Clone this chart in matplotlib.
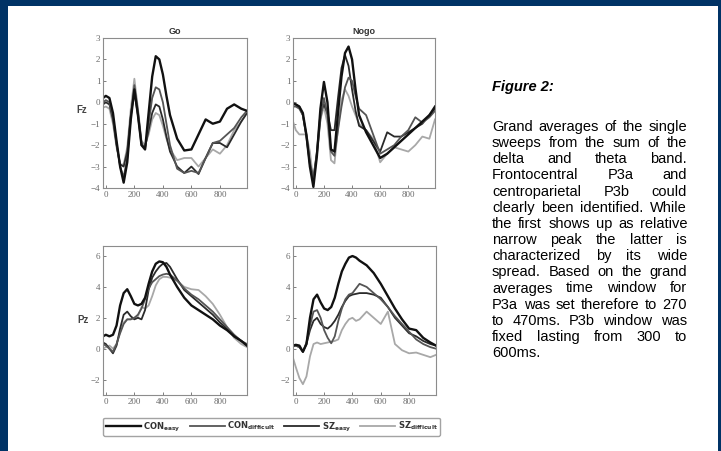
# -*- coding: utf-8 -*-
# Grand averages Fz / Pz, Go vs Nogo, with caption on the right
import matplotlib
matplotlib.use('Agg')
import matplotlib.pyplot as plt
from matplotlib.patches import Rectangle
from matplotlib.lines import Line2D

plt.rcParams['font.family'] = ['Liberation Sans', 'DejaVu Sans']

# time axis (ms)
t = [-20, 0, 25, 50, 75, 100, 125, 150, 175, 200, 225, 250, 275, 300, 325, 350,
     375, 400, 425, 450, 500, 550, 600, 650, 700, 750, 800, 850, 900, 950, 990]

groups = ['CON_easy', 'CON_difficult', 'SZ_easy', 'SZ_difficult']
legend_labels = [r'$\mathbf{CON}_{\mathbf{easy}}$', r'$\mathbf{CON}_{\mathbf{difficult}}$',
                 r'$\mathbf{SZ}_{\mathbf{easy}}$', r'$\mathbf{SZ}_{\mathbf{difficult}}$']

# Fz, Go
fz_go = {
    'CON_easy':      [0.2, 0.3, 0.2, -0.5, -1.8, -3.0, -3.75, -2.8, -0.8, 0.6, -0.6, -2.0, -2.2, -0.5, 1.2, 2.15,
                      2.0, 1.3, 0.3, -0.6, -1.7, -2.25, -2.2, -1.5, -0.8, -1.0, -0.9, -0.3, -0.1, -0.3, -0.4],
    'CON_difficult': [0.0, 0.1, 0.0, -0.7, -1.9, -3.0, -3.5, -2.6, -0.7, 0.8, -0.4, -1.9, -2.2, -1.0, 0.2, 0.7,
                      0.6, 0.0, -1.0, -2.0, -3.1, -3.3, -3.2, -3.3, -2.6, -1.9, -1.8, -1.5, -1.2, -0.7, -0.4],
    'SZ_easy':       [-0.1, 0.0, -0.1, -0.8, -2.0, -2.9, -3.0, -2.3, -0.6, 0.5, -0.6, -2.0, -2.1, -1.3, -0.5, -0.1,
                      -0.2, -0.8, -1.6, -2.3, -3.0, -3.3, -3.0, -3.35, -2.6, -1.9, -1.9, -2.1, -1.5, -0.9, -0.5],
    'SZ_difficult':  [-0.25, -0.2, -0.3, -1.0, -2.1, -2.9, -2.9, -2.1, -0.3, 1.1, -0.3, -1.8, -2.0, -1.5, -0.8, -0.5,
                      -0.6, -1.1, -1.7, -2.2, -2.7, -2.6, -2.6, -3.0, -2.6, -2.2, -2.4, -2.0, -1.3, -0.9, -0.5],
}

# Fz, Nogo
fz_nogo = {
    'CON_easy':      [-0.05, -0.1, -0.2, -0.5, -1.5, -3.0, -3.95, -2.5, -0.3, 0.95, 0.0, -2.2, -2.3, -0.5, 1.2, 2.3,
                      2.6, 2.0, 0.6, -0.6, -1.4, -2.0, -2.6, -2.4, -2.1, -1.8, -1.5, -1.2, -0.9, -0.6, -0.2],
    'CON_difficult': [-0.2, -0.2, -0.3, -0.6, -1.5, -2.8, -3.5, -2.4, -0.8, 0.2, -0.6, -2.3, -2.5, -1.3, -0.2, 0.7,
                      1.15, 1.0, 0.3, -0.3, -0.6, -1.5, -2.4, -2.2, -2.0, -1.6, -1.3, -0.7, -0.95, -0.7, -0.4],
    'SZ_easy':       [-0.1, -0.1, -0.2, -0.6, -1.6, -2.9, -3.6, -2.3, -0.5, -0.1, -0.5, -1.3, -1.3, 0.2, 1.6, 2.2,
                      1.7, 0.6, -0.4, -1.1, -1.3, -1.8, -2.3, -1.4, -1.6, -1.6, -1.4, -1.2, -1.0, -0.6, -0.3],
    'SZ_difficult':  [-0.9, -1.3, -1.5, -1.5, -1.5, -2.3, -3.7, -2.5, -0.8, -0.2, -1.0, -2.7, -2.85, -1.2, 0.1, 0.6,
                      0.3, -0.2, -0.6, -1.0, -1.3, -1.7, -2.8, -2.4, -2.1, -2.2, -2.3, -2.0, -1.6, -1.7, -0.8],
}

# Pz, Go
pz_go = {
    'CON_easy':      [0.8, 0.9, 0.8, 0.9, 1.5, 2.8, 3.6, 3.85, 3.4, 2.9, 2.8, 2.9, 3.3, 4.2, 5.0, 5.5,
                      5.65, 5.6, 5.3, 4.8, 4.0, 3.3, 2.8, 2.5, 2.2, 1.9, 1.5, 1.2, 0.8, 0.5, 0.2],
    'CON_difficult': [0.3, 0.2, 0.0, -0.2, 0.3, 1.0, 1.6, 1.9, 1.9, 2.0, 2.2, 2.6, 3.2, 3.9, 4.3, 4.5,
                      4.7, 4.8, 4.85, 4.8, 4.4, 3.9, 3.5, 3.2, 2.8, 2.4, 1.9, 1.4, 0.9, 0.5, 0.3],
    'SZ_easy':       [0.4, 0.3, 0.0, -0.3, 0.2, 1.3, 2.2, 2.4, 2.1, 1.9, 2.0, 1.9, 2.5, 3.8, 4.6, 5.0,
                      5.3, 5.5, 5.55, 5.3, 4.5, 3.8, 3.4, 3.0, 2.6, 2.2, 1.7, 1.3, 0.8, 0.5, 0.2],
    'SZ_difficult':  [0.0, 0.1, 0.2, 0.0, 0.3, 1.1, 1.7, 1.9, 1.9, 2.0, 2.1, 2.7, 2.6, 2.8, 3.4, 4.1,
                      4.5, 4.65, 4.65, 4.6, 4.4, 4.0, 3.85, 3.8, 3.4, 2.9, 2.2, 1.4, 0.7, 0.3, 0.1],
}

# Pz, Nogo
pz_nogo = {
    'CON_easy':      [0.2, 0.25, 0.2, -0.2, 0.3, 2.0, 3.2, 3.5, 3.0, 2.6, 2.5, 2.7, 3.3, 4.2, 5.0, 5.5,
                      5.9, 6.0, 5.9, 5.7, 5.4, 4.9, 4.2, 3.4, 2.6, 1.9, 1.3, 1.2, 0.7, 0.4, 0.2],
    'CON_difficult': [0.15, 0.2, 0.1, -0.2, 0.4, 1.5, 2.4, 2.5, 2.0, 1.2, 0.7, 0.35, 0.8, 1.8, 2.6, 3.2,
                      3.5, 3.6, 3.9, 4.2, 4.0, 3.6, 3.2, 2.7, 2.1, 1.6, 1.1, 0.6, 0.3, 0.1, 0.0],
    'SZ_easy':       [0.2, 0.2, 0.1, -0.2, 0.3, 1.2, 1.8, 2.0, 1.6, 1.4, 1.3, 1.5, 1.8, 2.2, 2.7, 3.1,
                      3.4, 3.5, 3.55, 3.6, 3.6, 3.5, 3.3, 2.7, 2.0, 1.5, 1.0, 0.8, 0.5, 0.3, 0.2],
    'SZ_difficult':  [-0.6, -1.2, -1.9, -2.3, -1.8, -0.5, 0.3, 0.4, 0.3, 0.35, 0.4, 0.45, 0.5, 0.6, 1.2, 1.6,
                      1.9, 2.0, 1.8, 1.9, 2.4, 2.0, 1.6, 2.4, 0.3, -0.1, -0.3, -0.25, -0.4, -0.55, -0.4],
}

caption_title = 'Figure 2:'
caption_lines = ['Grand averages of the single', 'sweeps from the sum of the',
                 'delta and theta band.', 'Frontocentral P3a and',
                 'centroparietal P3b could', 'clearly been identified. While',
                 'the first shows up as relative', 'narrow peak the latter is',
                 'characterized by its wide', 'spread. Based on the grand',
                 'averages time window for', 'P3a was set therefore to 270',
                 'to 470ms. P3b window was', 'fixed lasting from 300 to', '600ms.']

styles = {
    'CON_easy':      dict(color='#111111', lw=1.7),
    'CON_difficult': dict(color='#555555', lw=1.3),
    'SZ_easy':       dict(color='#2a2a2a', lw=1.3),
    'SZ_difficult':  dict(color='#a8a8a8', lw=1.3),
}

W, H = 721, 451
fig = plt.figure(figsize=(W / 100, H / 100), dpi=100)
fig.patch.set_facecolor('#003366')
fig.add_artist(Rectangle((8 / W, 0), (718 - 8) / W, (H - 6) / H, transform=fig.transFigure,
                         facecolor='white', edgecolor='none', zorder=-5))


def px_ax(l, r, top, bot):
    return [l / W, 1 - bot / H, (r - l) / W, (bot - top) / H]


panels = [
    (px_ax(103, 247, 38, 188), fz_go, (-4, 3), range(-4, 4), 'Go'),
    (px_ax(293, 435, 38, 188), fz_nogo, (-4, 3), range(-4, 4), 'Nogo'),
    (px_ax(103, 247, 246, 395), pz_go, (-3, 6.65), [-2, 0, 2, 4, 6], None),
    (px_ax(293, 436, 246, 395), pz_nogo, (-3, 6.65), [-2, 0, 2, 4, 6], None),
]

tick_col = '#6a6a6a'
for rect, data, ylim, yt, title in panels:
    ax = fig.add_axes(rect)
    for g in groups[::-1]:
        ax.plot(t, data[g], solid_joinstyle='round', **styles[g])
    ax.set_xlim(-20, 990)
    ax.set_ylim(*ylim)
    ax.set_xticks([0, 200, 400, 600, 800])
    ax.set_yticks(list(yt))
    ax.tick_params(direction='in', length=2, width=0.6, labelsize=6.5,
                   colors=tick_col, pad=2)
    for lab in ax.get_xticklabels() + ax.get_yticklabels():
        lab.set_family(['Liberation Serif', 'DejaVu Serif'])
    for s in ax.spines.values():
        s.set_color('#8c8c8c')
        s.set_linewidth(0.8)
    if title:
        ax.set_title(title, fontsize=6.5, fontweight='bold', color='#333333', pad=3)

fig.text(82 / W, 1 - 110 / H, 'Fz', fontsize=7, fontweight='bold', color='#444444',
         ha='center', va='center')
fig.text(83 / W, 1 - 320 / H, 'Pz', fontsize=7, fontweight='bold', color='#444444',
         ha='center', va='center')

# legend
handles = [Line2D([], [], **styles[g]) for g in groups]
leg = fig.legend(handles, legend_labels, loc='lower left', ncol=4, mode='expand',
                 bbox_to_anchor=(103 / W, 1 - 436 / H, (440 - 103) / W, 19 / H),
                 fontsize=6, frameon=True, fancybox=True, handlelength=4.2,
                 handletextpad=0.3, borderpad=0.3, borderaxespad=0)
leg.get_frame().set_edgecolor('#8c8c8c')
leg.get_frame().set_linewidth(1.0)
for txt in leg.get_texts():
    txt.set_color('#333333')

# caption, justified between x0 and x1 (pixels)
x0, x1 = 492, 687
fs = 10.5
renderer = fig.canvas.get_renderer()

fig.text(x0 / W, 1 - 87 / H, caption_title, fontsize=fs, fontweight='bold', style='italic',
         color='black', va='center', ha='left')
sp = fig.text(0, 0, 'a a', fontsize=fs)
aa = fig.text(0, 0, 'aa', fontsize=fs)
space_w = sp.get_window_extent(renderer).width - aa.get_window_extent(renderer).width
sp.remove()
aa.remove()

line_y0, line_dy = 127, 16.15
for i, line in enumerate(caption_lines):
    y = 1 - (line_y0 + i * line_dy) / H
    words = line.split()
    objs = [fig.text(0, y, w_, fontsize=fs, color='black', va='center', ha='left') for w_ in words]
    widths = [o.get_window_extent(renderer).width for o in objs]
    last = i == len(caption_lines) - 1
    if len(words) > 1 and not last:
        gap = max((x1 - x0 - sum(widths)) / (len(words) - 1), 2.0)
    else:
        gap = space_w
    x = x0
    for o, w_ in zip(objs, widths):
        o.set_x(x / W)
        x += w_ + gap

fig.savefig('out.png', dpi=100, facecolor=fig.get_facecolor())
